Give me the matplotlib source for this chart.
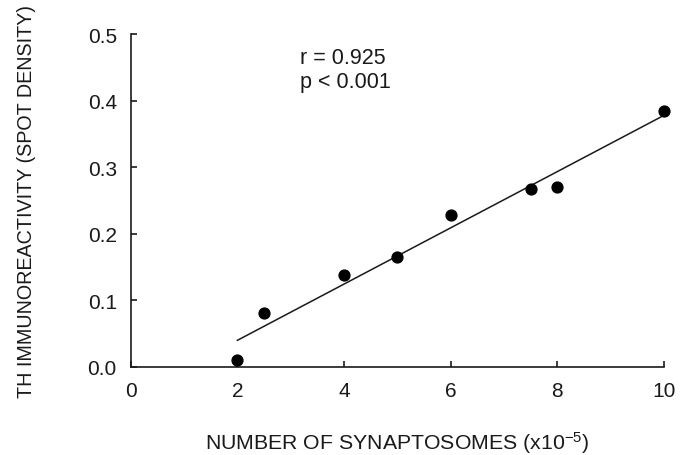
import numpy as np
import matplotlib
matplotlib.use("Agg")
import matplotlib.pyplot as plt

# Data
synaptosomes = [2, 2.5, 4, 5, 6, 7.5, 8, 10]          # x 10^-5
spot_density = [0.01, 0.08, 0.138, 0.165, 0.228, 0.267, 0.27, 0.385]

x_ticks = [0, 2, 4, 6, 8, 10]
y_ticks = [0.0, 0.1, 0.2, 0.3, 0.4, 0.5]
stats_text = "r = 0.925\np < 0.001"

plt.rcParams['font.family'] = ['Liberation Sans', 'DejaVu Sans']
plt.rcParams['mathtext.fontset'] = 'custom'
plt.rcParams['mathtext.rm'] = 'Liberation Sans'
plt.rcParams['mathtext.it'] = 'Liberation Sans'

INK = '#1a1a1a'

fig = plt.figure(figsize=(6.87, 4.56), dpi=100)
ax = fig.add_axes([0.1903, 0.1936, 0.7762, 0.7296])

# regression line over the range of the data
slope, intercept = np.polyfit(synaptosomes, spot_density, 1)
xs = np.array([min(synaptosomes), max(synaptosomes)])
ax.plot(xs, slope * xs + intercept, color=INK, lw=1.1)

ax.plot(synaptosomes, spot_density, 'o', color='black', ms=7.8,
        clip_on=False, zorder=3)

ax.set_xlim(0, 10)
ax.set_ylim(0, 0.5)
ax.set_xticks(x_ticks)
ax.set_yticks(y_ticks)
ax.set_xticklabels([str(t) for t in x_ticks])
ax.set_yticklabels(['%.1f' % t for t in y_ticks])

for side in ['top', 'right']:
    ax.spines[side].set_visible(False)
for side in ['left', 'bottom']:
    ax.spines[side].set_linewidth(1.2)
    ax.spines[side].set_color(INK)

ax.tick_params(direction='in', length=4, width=1.2, colors=INK,
               labelsize=15, pad=10)

ax.set_xlabel(r'NUMBER OF SYNAPTOSOMES (x10$^{-5}$)', fontsize=15.3, color=INK)
ax.xaxis.label.set_va('center')
ax.xaxis.set_label_coords(0.5, -0.225)

ax.set_ylabel('TH IMMUNOREACTIVITY (SPOT DENSITY)', fontsize=14.2, color=INK)
ax.yaxis.label.set_va('center')
ax.yaxis.set_label_coords(-0.196, 0.5)

ax.text(0.3175, 0.962, stats_text, transform=ax.transAxes, ha='left',
        va='top', fontsize=15.5, color=INK, linespacing=1.2)

fig.savefig('out.png', dpi=100)
